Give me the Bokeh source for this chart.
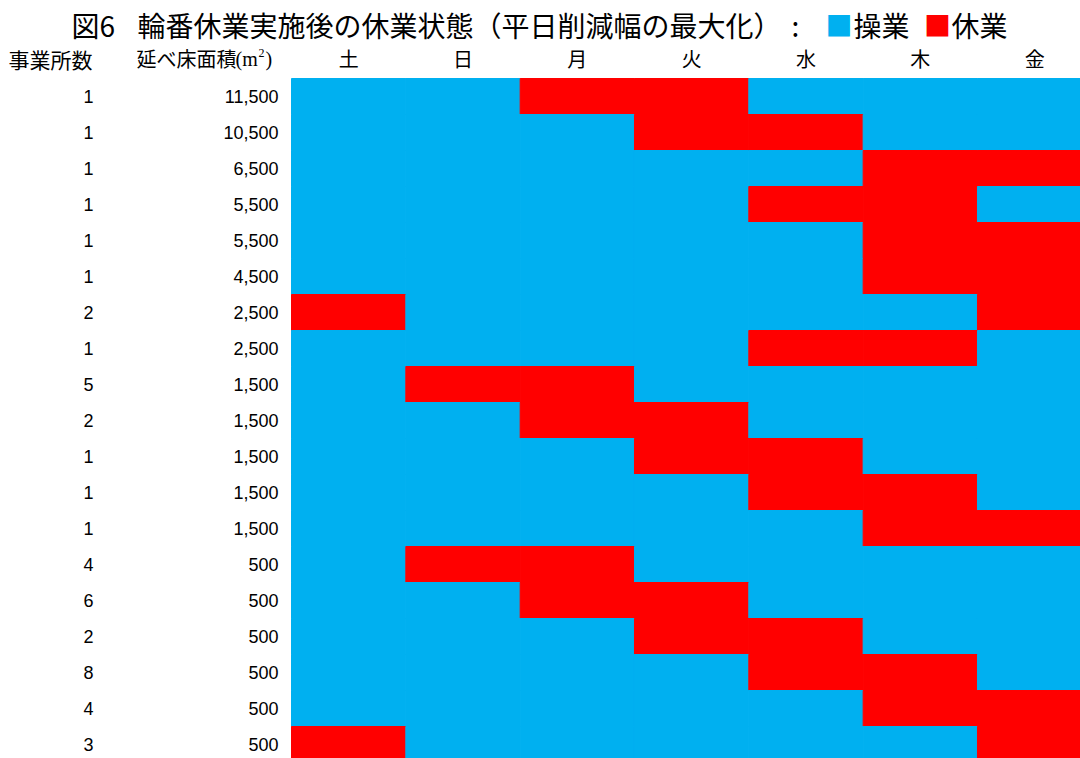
from bokeh.plotting import figure
from bokeh.models import Range1d, Label, ColumnDataSource
from bokeh.core.properties import value
from bokeh.embed import file_html
from bokeh.resources import INLINE

# ---- data -------------------------------------------------------------
days = ["土", "日", "月", "火", "水", "木", "金"]
site_counts = [1, 1, 1, 1, 1, 1, 2, 1, 5, 2, 1, 1, 1, 4, 6, 2, 8, 4, 3]
floor_areas = [11500, 10500, 6500, 5500, 5500, 4500, 2500, 2500, 1500, 1500,
               1500, 1500, 1500, 500, 500, 500, 500, 500, 500]
closed_days = [
    ["月", "火"], ["火", "水"], ["木", "金"], ["水", "木"], ["木", "金"],
    ["木", "金"], ["土", "金"], ["水", "木"], ["日", "月"], ["月", "火"],
    ["火", "水"], ["水", "木"], ["木", "金"], ["日", "月"], ["月", "火"],
    ["火", "水"], ["水", "木"], ["木", "金"], ["土", "金"],
]
status_labels = ["操業", "休業"]
status_colors = {"操業": "#00B0F0", "休業": "#FF0000"}

# ---- layout helpers (pixel -> data) ----------------------------------
W, H = 1080, 758
GRID_LEFT, COL_W = 291, 114.33
GRID_TOP, ROW_H = 78, 36


def xd(px):
    return (px - GRID_LEFT) / COL_W


def yd(py):
    return (py - GRID_TOP) / ROW_H


JP = "Noto Sans CJK JP"
NUM = "Liberation Sans"

p = figure(width=W, height=H, output_backend="svg", toolbar_location=None,
           x_range=Range1d(xd(0), xd(W)), y_range=Range1d(yd(H), yd(0)),
           min_border=0)
p.axis.visible = False
p.xgrid.visible = False
p.ygrid.visible = False
p.outline_line_color = None
p.background_fill_color = "white"
p.border_fill_color = "white"

# ---- schedule cells ---------------------------------------------------
left, right, top, bottom, colors = [], [], [], [], []
for i, off in enumerate(closed_days):
    for j, d in enumerate(days):
        state = status_labels[1] if d in off else status_labels[0]
        left.append(j)
        right.append(j + 1)
        top.append(i)
        bottom.append(i + 1)
        colors.append(status_colors[state])
cells = ColumnDataSource(dict(left=left, right=right, top=top,
                              bottom=bottom, color=colors))
p.quad(left="left", right="right", top="top", bottom="bottom",
       fill_color="color", line_color="color", line_width=1, source=cells)

# ---- row labels -------------------------------------------------------
row_y = [i + 0.5 for i in range(len(site_counts))]
p.text(x=[xd(93)] * len(site_counts), y=row_y,
       text=[str(c) for c in site_counts],
       text_align="right", text_baseline="middle",
       text_font=value(NUM), text_font_size="18px", text_color="black")
p.text(x=[xd(278)] * len(floor_areas), y=row_y,
       text=[f"{a:,}" for a in floor_areas],
       text_align="right", text_baseline="middle",
       text_font=value(NUM), text_font_size="18px", text_color="black")

# ---- header row -------------------------------------------------------
hy = yd(58)
p.text(x=[j + 0.5 for j in range(len(days))], y=[hy] * len(days), text=days,
       text_align="center", text_baseline="middle",
       text_font=value(JP), text_font_size="20px", text_color="black")

p.add_layout(Label(x=xd(50), y=hy, text="事業所数", text_align="center",
                   text_baseline="middle", text_font=JP,
                   text_font_size="21px", text_color="black"))
p.add_layout(Label(x=xd(136), y=hy, text="延べ床面積", text_align="left",
                   text_baseline="middle", text_font=JP,
                   text_font_size="20px", text_color="black"))
p.add_layout(Label(x=xd(235), y=hy, text="(m", text_align="left",
                   text_baseline="middle", text_font="Liberation Serif",
                   text_font_size="20px", text_color="black"))
p.add_layout(Label(x=xd(258), y=yd(52), text="2", text_align="left",
                   text_baseline="middle", text_font="Liberation Serif",
                   text_font_size="12px", text_color="black"))
p.add_layout(Label(x=xd(265), y=hy, text=")", text_align="left",
                   text_baseline="middle", text_font="Liberation Serif",
                   text_font_size="20px", text_color="black"))

# ---- title with inline legend ----------------------------------------
ty = yd(24)
title_parts = [
    (71, "図6", "black", "left", "28px"),
    (137, "輪番休業実施後の休業状態（平日削減幅の最大化）", "black", "left", "28px"),
    (795, ":", "black", "center", "28px"),
    (838.5, "■", status_colors["操業"], "center", "27px"),
    (853, status_labels[0], "black", "left", "28px"),
    (937, "■", status_colors["休業"], "center", "27px"),
    (951, status_labels[1], "black", "left", "28px"),
]
for px, txt, col, align, size in title_parts:
    p.add_layout(Label(x=xd(px), y=ty, text=txt, text_align=align,
                       text_baseline="middle", text_font=JP,
                       text_font_size=size, text_color=col))

open("out.html", "w").write(file_html(p, INLINE))
